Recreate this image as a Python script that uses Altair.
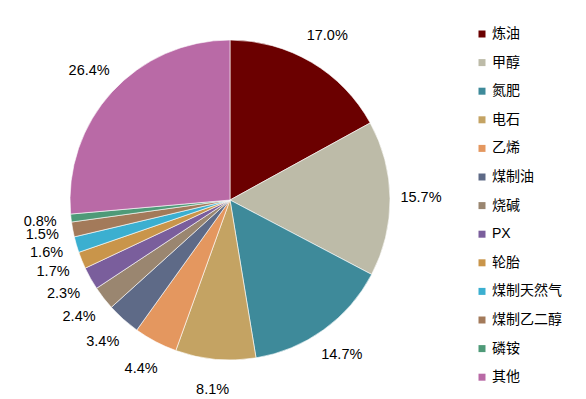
import altair as alt
import pandas as pd

categories = ["炼油", "甲醇", "氮肥", "电石", "乙烯", "煤制油", "烧碱", "PX", "轮胎",
              "煤制天然气", "煤制乙二醇", "磷铵", "其他"]
values = [17.0, 15.7, 14.7, 8.1, 4.4, 3.4, 2.4, 2.3, 1.7, 1.6, 1.5, 0.8, 26.4]
colors = ["#6B0000", "#BDBBA8", "#3E8A9A", "#C4A363", "#E4975F", "#5E6A87", "#9A8670",
          "#7A5E9C", "#C9954A", "#3BAFD0", "#A37A5A", "#4E9A78", "#B96AA6"]

df = pd.DataFrame({
    "cat": categories,
    "val": values,
    "idx": list(range(len(categories))),
    "label": [f"{v:.1f}%" for v in values],
})

FONT = "Arial, 'Liberation Sans', 'Noto Sans CJK SC', sans-serif"

base = alt.Chart(df).encode(
    theta=alt.Theta("val:Q", stack=True),
    order=alt.Order("idx:Q"),
)

arcs = base.mark_arc(outerRadius=160, stroke="white", strokeWidth=0.6).encode(
    color=alt.Color("cat:N", scale=alt.Scale(domain=categories, range=colors),
                    sort=categories,
                    legend=alt.Legend(title=None, orient="none", legendX=467, legendY=19,
                                      symbolType="square", symbolSize=49,
                                      symbolStrokeWidth=0,
                                      labelFontSize=14, labelFont=FONT,
                                      labelColor="#000000", rowPadding=14.6,
                                      labelOffset=3)),
)

labels = base.mark_text(radius=191, fontSize=14.5, font=FONT, color="#000000").encode(
    text="label:N",
)

chart = (arcs + labels).properties(
    width=444, height=384, padding=0
).configure_view(stroke=None).configure(font=FONT)

chart.save("out.html", embed_options={"renderer": "svg", "actions": False})
